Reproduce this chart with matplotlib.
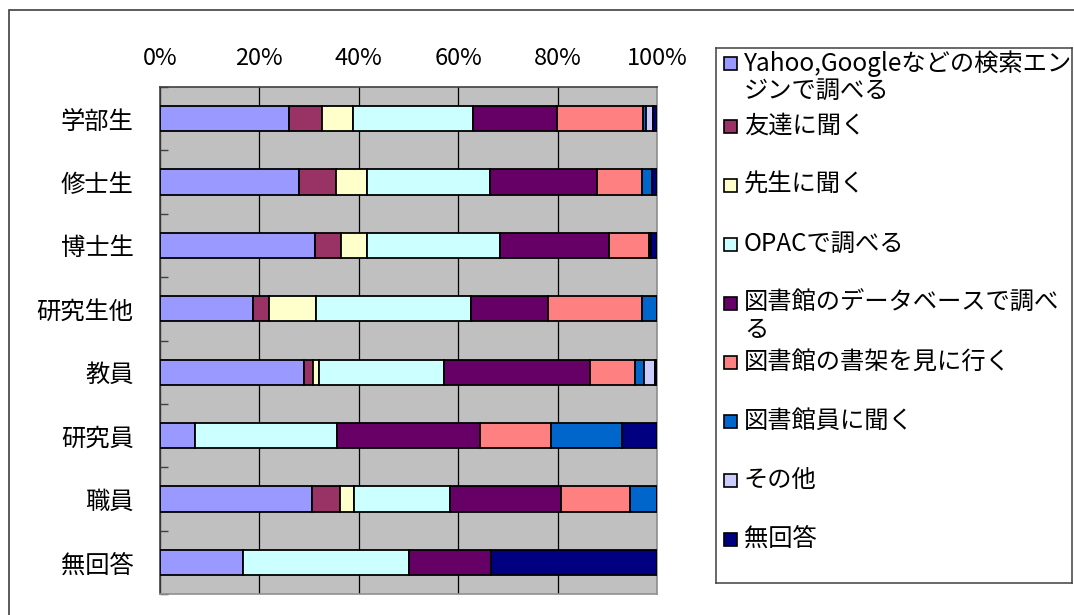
import numpy as np
import matplotlib
matplotlib.use("Agg")
import matplotlib.pyplot as plt
from matplotlib.patches import Rectangle

plt.rcParams['font.family'] = ['Noto Sans CJK JP', 'DejaVu Sans']

# --- データ (%) ---
categories = ["学部生", "修士生", "博士生", "研究生他", "教員", "研究員", "職員", "無回答"]

series_names = [
    "Yahoo,Googleなどの検索エン\nジンで調べる",
    "友達に聞く",
    "先生に聞く",
    "OPACで調べる",
    "図書館のデータベースで調べ\nる",
    "図書館の書架を見に行く",
    "図書館員に聞く",
    "その他",
    "無回答",
]

search_engine = [26.0, 27.9, 31.1, 18.8, 28.9, 7.1, 30.6, 16.7]
friend        = [6.5, 7.6, 5.3, 3.1, 1.9, 0.0, 5.6, 0.0]
teacher       = [6.4, 6.2, 5.2, 9.4, 1.2, 0.0, 2.8, 0.0]
opac          = [24.0, 24.6, 26.9, 31.2, 25.2, 28.6, 19.4, 33.3]
database      = [16.9, 21.7, 21.9, 15.6, 29.4, 28.6, 22.2, 16.7]
bookshelf     = [17.4, 8.9, 7.9, 18.8, 8.9, 14.3, 13.9, 0.0]
librarian     = [0.6, 2.1, 0.5, 3.1, 1.9, 14.3, 5.5, 0.0]
other         = [1.4, 0.0, 0.0, 0.0, 2.1, 0.0, 0.0, 0.0]
no_answer     = [0.8, 1.0, 1.2, 0.0, 0.5, 7.1, 0.0, 33.3]

colors = ["#9999FF", "#993366", "#FFFFCC", "#CCFFFF", "#660066",
          "#FF8080", "#0066CC", "#CCCCFF", "#000080"]

values = np.array([search_engine, friend, teacher, opac, database,
                   bookshelf, librarian, other, no_answer])
values = values / values.sum(axis=0) * 100  # 100%積み上げ

W, H = 1074, 615
fig = plt.figure(figsize=(W / 100, H / 100), dpi=100)

# 外枠
fig.patches.append(Rectangle((9 / W, -0.2), 1.2, 1.2 - 10 / H, transform=fig.transFigure,
                             fill=False, edgecolor="#404040", linewidth=1.2))

# --- 棒グラフ ---
ax = fig.add_axes([160 / W, 1 - 594 / H, 497 / W, 507 / H])
ax.set_facecolor("#C0C0C0")
y = np.arange(len(categories))
left = np.zeros(len(categories))
for vals, col in zip(values, colors):
    ax.barh(y, vals, left=left, height=0.4, color=col, edgecolor="black",
            linewidth=1.3, zorder=3)
    left += vals

ax.set_xlim(0, 100)
ax.set_ylim(len(categories) - 0.5, -0.5)
ax.xaxis.tick_top()
ax.set_xticks(np.arange(0, 101, 20))
ax.set_xticklabels([f"{v}%" for v in range(0, 101, 20)],
                   family=['Liberation Sans Narrow', 'Noto Sans CJK JP'], fontsize=17)
ax.tick_params(axis="x", length=0, pad=12)
ax.xaxis.grid(True, color="black", linewidth=0.9, zorder=1)
ax.set_axisbelow(True)

ax.set_yticks(y)
ax.set_yticklabels(categories, fontsize=17.5)
ax.tick_params(axis="y", which="major", length=0, pad=19)
ax.set_yticks(np.arange(-0.5, len(categories)), minor=True)
ax.tick_params(axis="y", which="minor", direction="in", length=6, color="#404040", width=1)

for side in ["top", "left"]:
    ax.spines[side].set_color("#404040")
for side in ["bottom", "right"]:
    ax.spines[side].set_color("#909090")
for s in ax.spines.values():
    s.set_linewidth(1.2)

# --- 凡例 ---
lg = fig.add_axes([716 / W, 1 - 583 / H, 356 / W, 535 / H])
lg.set_xlim(0, 356)
lg.set_ylim(535, 0)
lg.set_xticks([])
lg.set_yticks([])
for s in lg.spines.values():
    s.set_color("#404040")
    s.set_linewidth(1.1)

for i, (name, col) in enumerate(zip(series_names, colors)):
    yc = 15 if i == 0 else 19 + 59 * i
    lg.add_patch(Rectangle((8, yc - 6.5), 13, 13, facecolor=col,
                           edgecolor="black", linewidth=1.2))
    lg.text(28, yc - 13, name, fontsize=17.5, va="top", ha="left",
            linespacing=1.05)

fig.savefig("out.png", dpi=100)
